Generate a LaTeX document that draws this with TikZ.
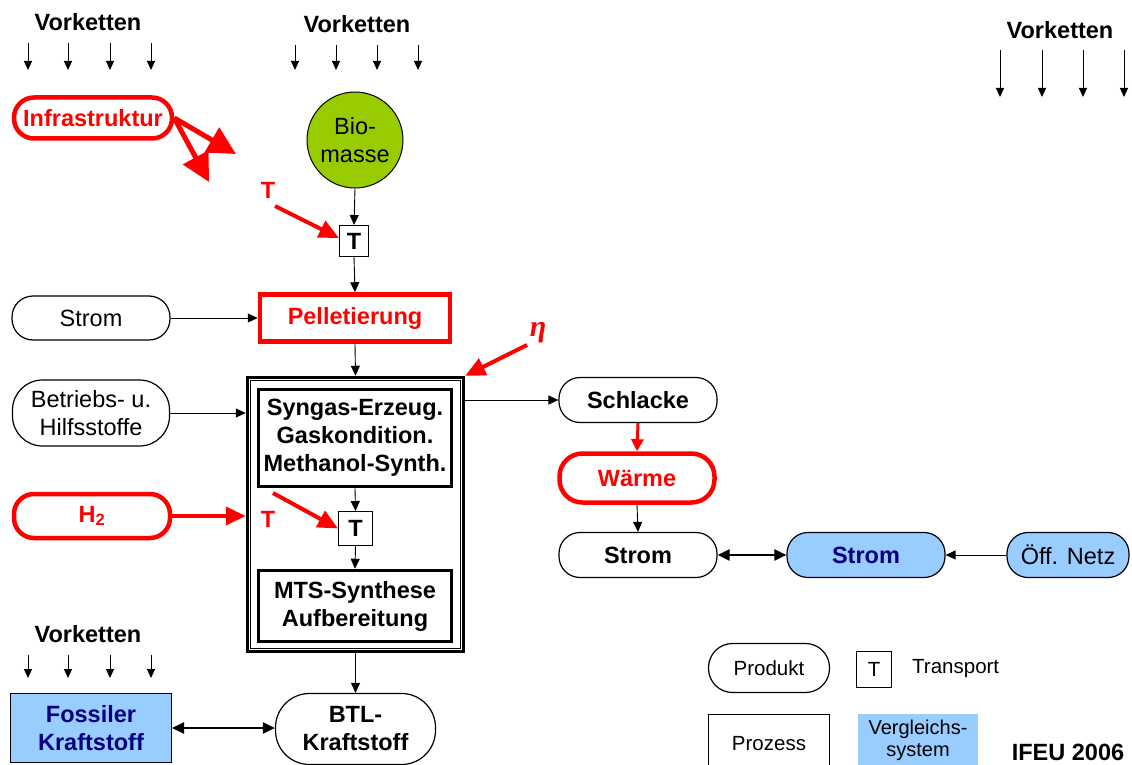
\documentclass[tikz,border=0pt]{standalone}
\usepackage{fontspec}
\setmainfont{Liberation Sans}
\newfontfamily\grkserif{Liberation Serif}
\usetikzlibrary{arrows.meta,calc}
\definecolor{ifred}{HTML}{FF0000}
\definecolor{ifblue}{HTML}{99CCFF}
\definecolor{ifnavy}{HTML}{000080}
\definecolor{ifgreen}{HTML}{99CC00}
\begin{document}
\begin{tikzpicture}[x=1pt,y=-1pt,
  every node/.style={font=\fontsize{23.5}{28}\selectfont, align=center, inner sep=0pt},
  bf/.style={font=\fontsize{23.5}{28}\selectfont\bfseries},
  small/.style={font=\fontsize{20.5}{23}\selectfont},
  pill/.style={draw, line width=1.2pt, rounded corners=21pt, minimum height=45pt},
  redpill/.style={draw=ifred, line width=4.5pt, rounded corners=20pt, text=ifred, bf},
  bluepill/.style={pill, fill=ifblue},
  procbox/.style={draw, line width=3.5pt, bf},
  tbox/.style={draw, line width=1pt, bf, minimum width=29pt, minimum height=31pt},
  flow/.style={line width=0.9pt, -{Triangle[length=10pt,width=9pt]}},
  both/.style={line width=2.2pt, {Triangle[length=12pt,width=11pt]}-{Triangle[length=12pt,width=11pt]}},
  redflow/.style={draw=ifred, line width=4pt, -{Triangle[length=20pt,width=18pt]}, color=ifred},
  bigred/.style={draw=ifred, line width=5pt, -{Triangle[length=28pt,width=28pt]}, color=ifred},
  chain/.style={line width=1pt, -{Triangle[length=9pt,width=8pt]}},
  redlbl/.style={text=ifred, bf},
]
\clip (0,0) rectangle (1132,765);
\fill[white] (0,0) rectangle (1132,765);

% upstream chains
\node[bf] (vk1) at (88,22) {Vorketten};
\foreach \x in {28,68,110,151} \draw[chain] (\x,43) -- (\x,70);
\node[bf] (vk2) at (357,24) {Vorketten};
\foreach \x in {295,336,377,418} \draw[chain] (\x,45) -- (\x,70);
\node[bf] (vk3) at (1060,30) {Vorketten};
\foreach \x in {1000,1042,1083,1124} \draw[chain] (\x,50) -- (\x,97);
\node[bf] (vk4) at (88,634) {Vorketten};
\foreach \x in {28,68,110,151} \draw[chain] (\x,655) -- (\x,678);

% infrastructure
\node[redpill, minimum width=158pt, minimum height=41pt] (infra) at (93,118) {Infrastruktur};
\coordinate (ia) at (236,154);
\coordinate (ib) at (209,182);
\draw[bigred] (infra.east) -- (ia);
\draw[bigred] (infra.east) -- (ib);

% biomass chain
\node[circle, draw, line width=1pt, fill=ifgreen, minimum size=96pt] (bio) at (355,140) {Bio-\\masse};
\node[tbox] (t1) at (354,241) {T};
\node[redlbl] (tl1) at (268,190) {T};
\coordinate (ts1) at (275,206);
\draw[redflow] (ts1) -- ($(t1.west)+(0,-3)$);
\draw[flow] (bio.south) -- (t1.north);
\node[draw=ifred, line width=4.5pt, minimum width=190pt, minimum height=47pt, text=ifred, bf] (pell) at (355,318) {Pelletierung};
\draw[flow] (t1.south) -- (pell.north);
\node[pill, minimum width=158pt, minimum height=44pt] (strom1) at (91,318) {Strom};
\draw[flow] (strom1.east) -- (pell.west);

% conversion plant
\node[draw, line width=3.5pt, minimum width=216pt, minimum height=274pt] (plant) at (355.5,514.5) {};
\draw[line width=1.3pt] ($(plant.north west)+(5,5)$) rectangle ($(plant.south east)+(-5,-5)$);
\draw[flow] (pell.south) -- (plant.north);
\node[procbox, minimum width=193pt, minimum height=97pt] (syn) at (355,438) {Syngas-Erzeug.\\Gaskondition.\\Methanol-Synth.};
\node[tbox, minimum width=34pt, minimum height=34pt] (t2) at (355.5,528.5) {T};
\node[procbox, minimum width=193pt, minimum height=71pt] (mts) at (355,606) {MTS-Synthese\\Aufbereitung};
\draw[flow] (syn.south) -- (t2.north);
\draw[flow] (t2.south) -- (mts.north);
\node[redlbl] (tl2) at (268,519) {T};
\coordinate (ts2) at (273,493);
\draw[redflow] (ts2) -- (t2.west);

\node[pill, minimum width=157pt, minimum height=66pt, rounded corners=30pt] (hilf) at (91,413) {Betriebs- u.\\Hilfsstoffe};
\draw[flow] (hilf.east) -- (plant.west |- hilf.east);
\node[redpill, minimum width=156pt, minimum height=44pt] (h2) at (92,516) {H\textsubscript{2}};
\draw[redflow] (h2.east) -- (plant.west |- h2.east);

% efficiency
\node[text=ifred, font=\fontsize{30}{30}\grkserif\bfseries\itshape] (eta) at (538,333) {η};
\coordinate (es) at (527,345);
\draw[redflow] (es) -- (plant.north east);

% by-products
\node[pill, bf, minimum width=158pt, minimum height=45pt] (schl) at (638,400) {Schlacke};
\draw[flow] (plant.east |- schl.west) -- (schl.west);
\node[redpill, minimum width=155pt, minimum height=49pt, rounded corners=23pt, text=ifred] (waerme) at (637,478) {Wärme};
\draw[draw=ifred, line width=3pt, -{Triangle[length=12pt,width=12pt]}, color=ifred] (schl.south) -- (waerme.north);
\node[pill, bf, minimum width=158pt, minimum height=45pt] (strom2) at (638,555) {Strom};
\draw[flow] (waerme.south) -- (strom2.north);
\node[bluepill, minimum width=158pt, minimum height=45pt, text=ifnavy, bf] (strom3) at (866,555) {Strom};
\draw[both] (strom2.east) -- (strom3.west);
\node[bluepill, minimum width=122pt, minimum height=45pt] (netz) at (1068,555) {Öff. Netz};
\draw[flow] (netz.west) -- (strom3.east);

% fuel
\node[pill, bf, minimum width=160pt, minimum height=71pt, rounded corners=34pt] (btl) at (355.5,729) {BTL-\\Kraftstoff};
\draw[flow] (plant.south) -- (btl.north);
\node[draw, line width=1pt, fill=ifblue, text=ifnavy, bf, minimum width=161pt, minimum height=69pt] (foss) at (91,728) {Fossiler\\Kraftstoff};
\draw[both] (foss.east) -- (btl.west |- foss.east);

% legend
\node[pill, small, minimum width=121pt, minimum height=49pt, rounded corners=24pt] (lprod) at (769,668) {Produkt};
\node[draw, small, line width=1pt, minimum width=35pt, minimum height=36pt] (lt) at (874,669) {T};
\node[small, anchor=west] (ltr) at (912,669) {Transport};
\node[draw, small, line width=1pt, minimum width=121pt, minimum height=60pt] (lproz) at (769,744) {Prozess};
\node[fill=ifblue, minimum width=120pt, minimum height=60pt] (lver) at (918,744) {};
\node[font=\fontsize{20}{22}\selectfont] (lvert) at (918,740) {Vergleichs-\\system};
\node[bf] (ifeu) at (1068,752) {IFEU 2006};
\end{tikzpicture}
\end{document}
